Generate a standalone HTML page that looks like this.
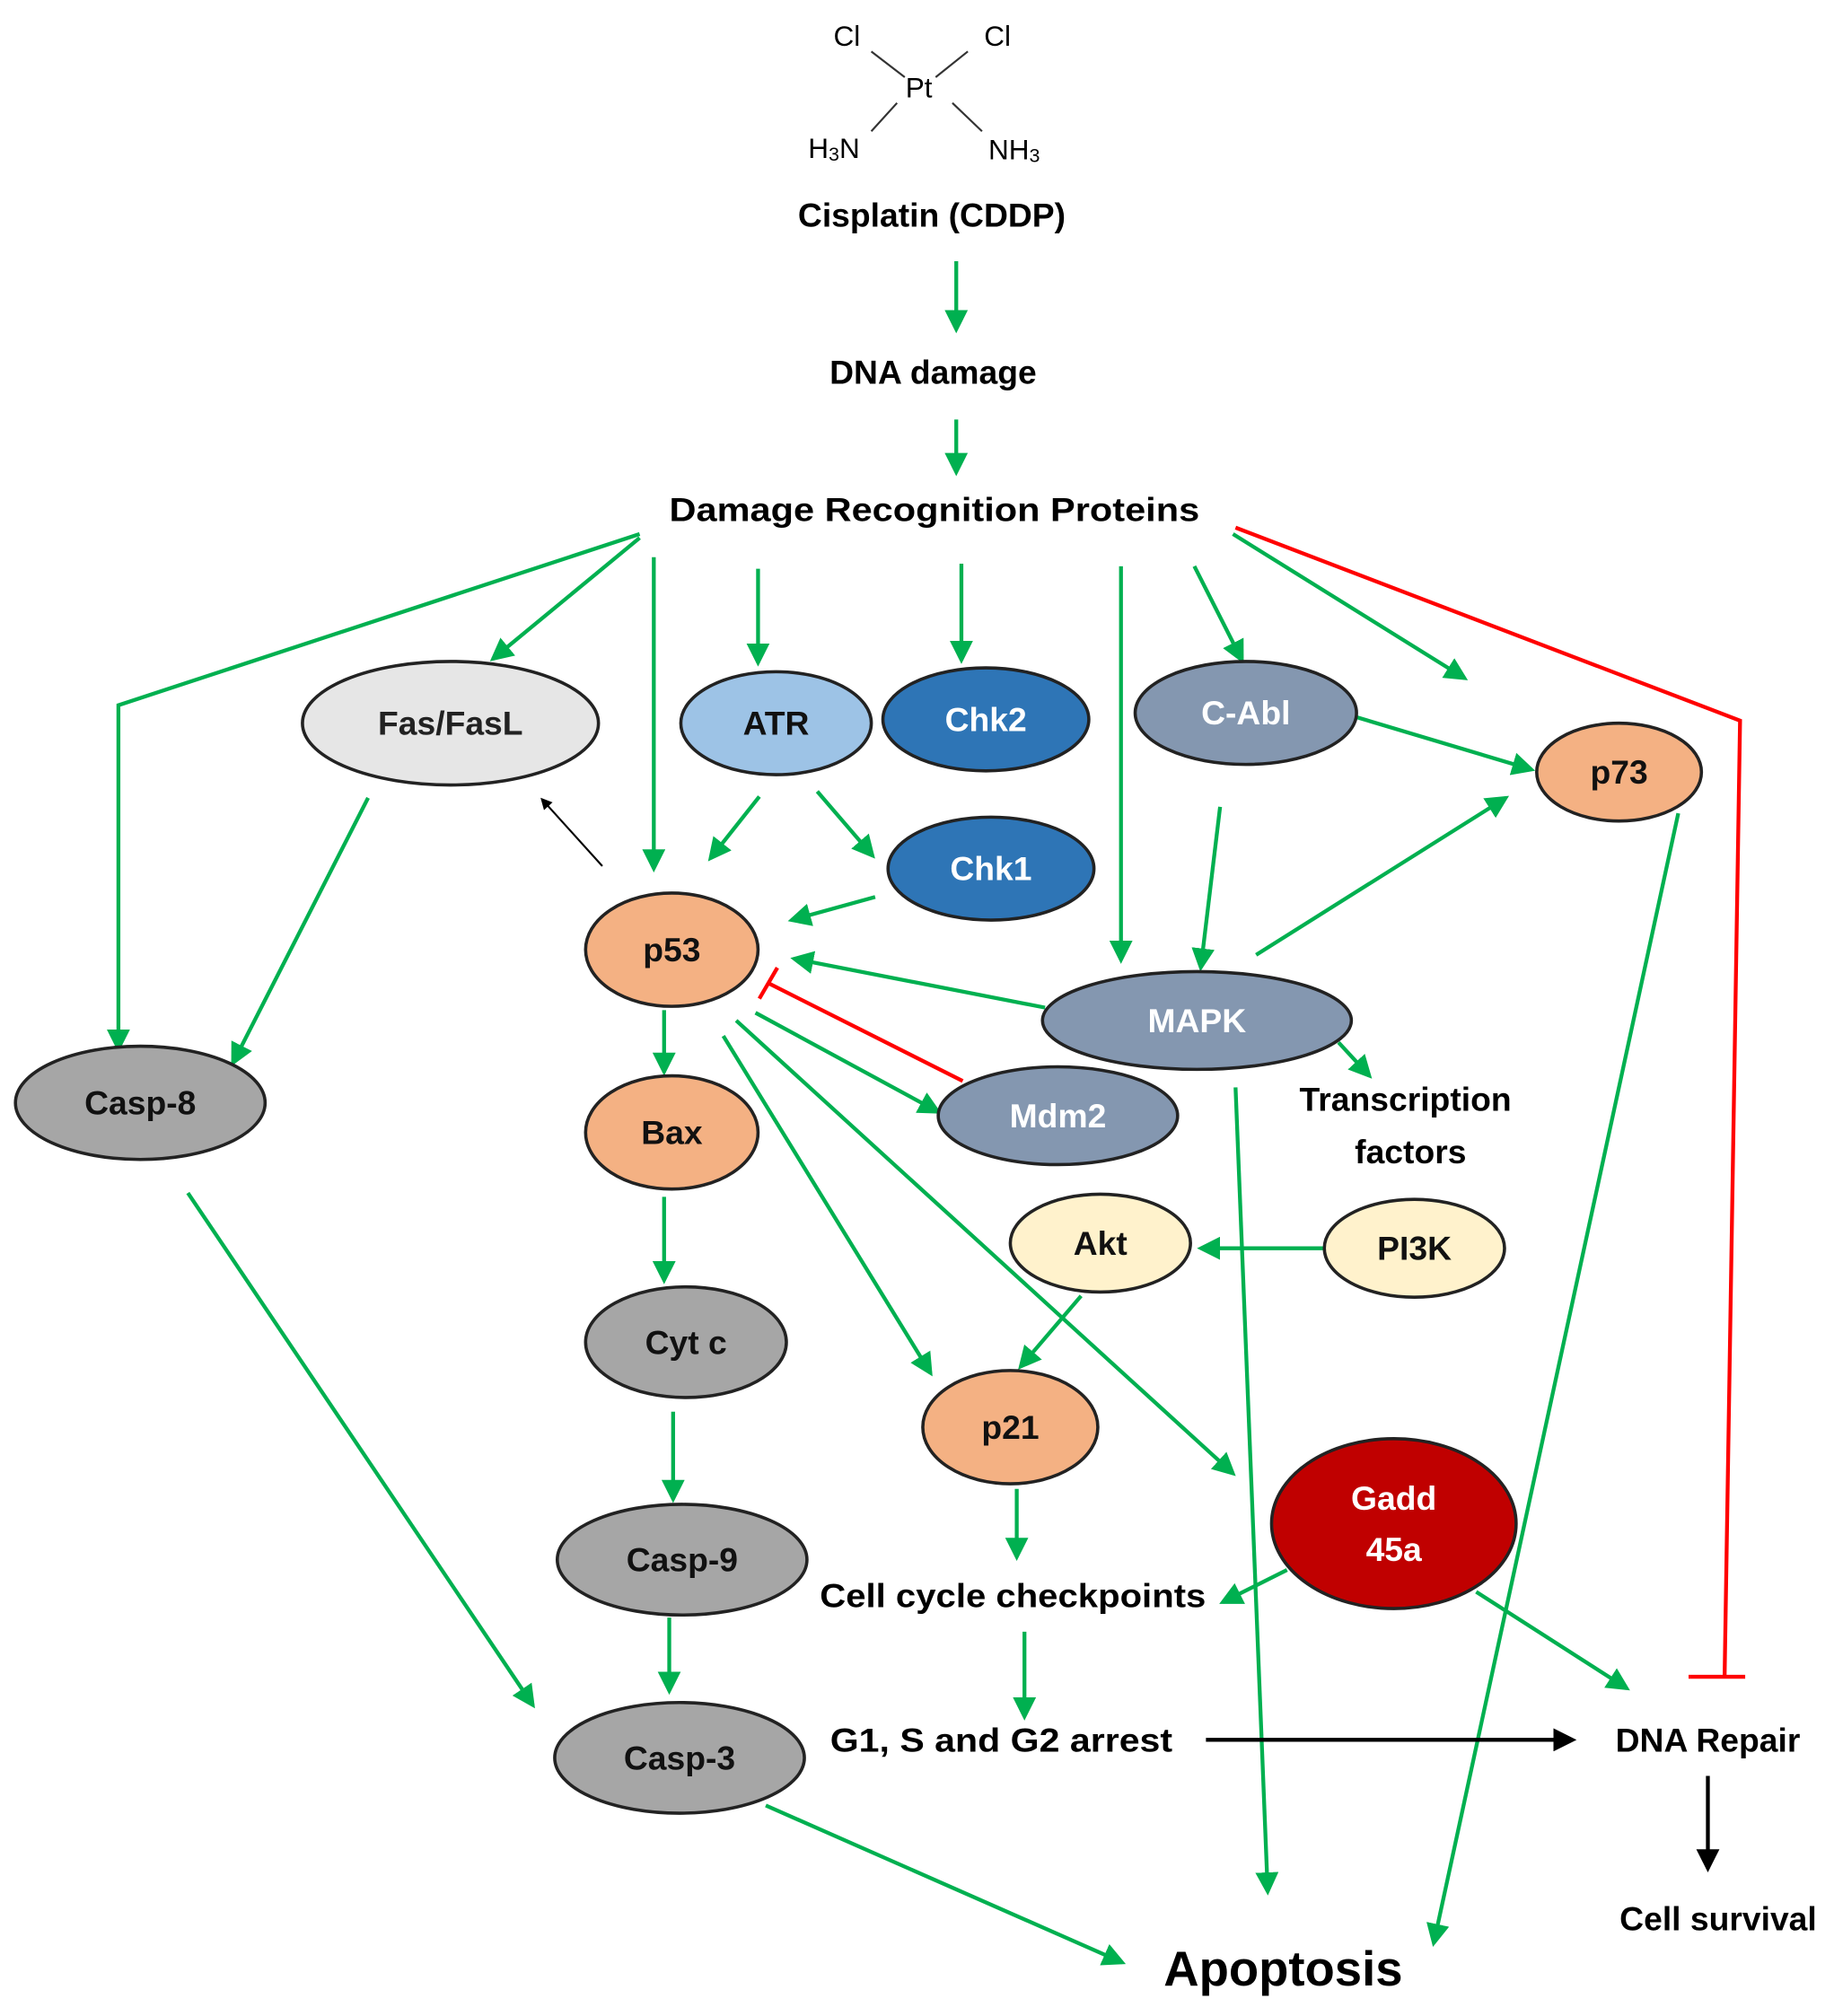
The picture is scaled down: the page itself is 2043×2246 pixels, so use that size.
<!DOCTYPE html>
<html><head><meta charset="utf-8"><style>
html,body{margin:0;padding:0;background:#fff;}
svg{display:block}
text{font-family:"Liberation Sans",sans-serif;font-weight:bold;text-anchor:middle;dominant-baseline:central}
</style></head><body>
<svg width="2043" height="2246" viewBox="0 0 1425 1566.6" preserveAspectRatio="none" xmlns="http://www.w3.org/2000/svg">
<defs>
<marker id="g" markerWidth="6" markerHeight="6" refX="5" refY="3" orient="auto" markerUnits="strokeWidth"><path d="M0,0 L6,3 L0,6 z" fill="#00b050"/></marker>
<marker id="k" markerWidth="6" markerHeight="6" refX="5" refY="3" orient="auto" markerUnits="strokeWidth"><path d="M0,0 L6,3 L0,6 z" fill="#000"/></marker>
</defs>
<!-- molecule -->
<g font-weight="normal" style="font-weight:normal">
<text x="658" y="28" font-size="22" style="font-weight:normal">Cl</text>
<text x="775" y="28" font-size="22" style="font-weight:normal">Cl</text>
<text x="714" y="68" font-size="22" style="font-weight:normal">Pt</text>
<text x="648" y="115" font-size="22" style="font-weight:normal">H<tspan font-size="15" dy="5">3</tspan><tspan dy="-5">N</tspan></text>
<text x="788" y="116" font-size="22" style="font-weight:normal">NH<tspan font-size="15" dy="5">3</tspan></text>
</g>
<g stroke="#333" stroke-width="1.5">
<line x1="677" y1="40" x2="703" y2="60"/><line x1="752" y1="40" x2="727" y2="60"/>
<line x1="697" y1="80" x2="677" y2="102"/><line x1="740" y1="80" x2="763" y2="102"/>
</g>
<g font-size="26">
<text x="724" y="167">Cisplatin (CDDP)</text>
<text x="725" y="289">DNA damage</text>
<text x="726" y="396" textLength="412" lengthAdjust="spacingAndGlyphs">Damage Recognition Proteins</text>
<text x="1092" y="854">Transcription</text>
<text x="1096" y="895">factors</text>
<text x="787" y="1240" textLength="300" lengthAdjust="spacingAndGlyphs">Cell cycle checkpoints</text>
<text x="778" y="1352" textLength="266" lengthAdjust="spacingAndGlyphs">G1, S and G2 arrest</text>
<text x="1327" y="1352">DNA Repair</text>
<text x="1335" y="1491">Cell survival</text>
<text x="997" y="1530" font-size="38">Apoptosis</text>
</g>
<!-- arrows -->
<g stroke="#00b050" stroke-width="3" fill="none" marker-end="url(#g)">
<line x1="743" y1="203" x2="743" y2="256"/>
<line x1="743" y1="326" x2="743" y2="367"/>
<polyline points="497,415 92,548 92,815"/>
<line x1="497" y1="418" x2="383" y2="512"/>
<line x1="508" y1="433" x2="508" y2="675"/>
<line x1="589" y1="442" x2="589" y2="515"/>
<line x1="747" y1="438" x2="747" y2="513"/>
<line x1="928" y1="440" x2="965" y2="513"/>
<line x1="958" y1="415" x2="1138" y2="527"/>
<line x1="871" y1="440" x2="871" y2="746"/>
<line x1="1053" y1="557" x2="1190" y2="598"/>
<line x1="590" y1="619" x2="552" y2="667"/>
<line x1="635" y1="615" x2="678" y2="665"/>
<line x1="680" y1="697" x2="615" y2="715"/>
<line x1="948" y1="627" x2="933" y2="752"/>
<line x1="976" y1="742" x2="1170" y2="620"/>
<line x1="812" y1="783" x2="617" y2="745"/>
<line x1="286" y1="620" x2="181" y2="826"/>
<line x1="587" y1="787" x2="729" y2="864"/>
<line x1="516" y1="785" x2="516" y2="833"/>
<line x1="1040" y1="810" x2="1064" y2="836"/>
<line x1="562" y1="805" x2="723" y2="1067"/>
<line x1="572" y1="793" x2="958" y2="1145"/>
<line x1="960" y1="845" x2="985" y2="1470"/>
<line x1="1304" y1="632" x2="1114" y2="1510"/>
<line x1="1030" y1="970" x2="933" y2="970"/>
<line x1="840" y1="1007" x2="793" y2="1062"/>
<line x1="516" y1="930" x2="516" y2="995"/>
<line x1="523" y1="1097" x2="523" y2="1165"/>
<line x1="790" y1="1157" x2="790" y2="1210"/>
<line x1="1000" y1="1220" x2="950" y2="1245"/>
<line x1="520" y1="1257" x2="520" y2="1314"/>
<line x1="146" y1="927" x2="414" y2="1325"/>
<line x1="796" y1="1268" x2="796" y2="1334"/>
<line x1="1147" y1="1237" x2="1264" y2="1312"/>
<line x1="595" y1="1403" x2="872" y2="1525"/>
</g>
<g stroke="#000" fill="none" marker-end="url(#k)">
<line x1="468" y1="673" x2="421" y2="621" stroke-width="1.5"/>
<line x1="937" y1="1352" x2="1222" y2="1352" stroke-width="3"/>
<line x1="1327" y1="1380" x2="1327" y2="1452" stroke-width="3"/>
</g>
<g stroke="#ff0000" stroke-width="3" fill="none">
<polyline points="960,410 1352,560 1340,1303"/>
<line x1="1312" y1="1303" x2="1356" y2="1303"/>
<line x1="748" y1="840" x2="597" y2="764"/>
<line x1="590" y1="776" x2="604" y2="752"/>
</g>
<!-- nodes -->
<g stroke="#222" stroke-width="2.5">
<ellipse cx="350" cy="562" rx="115" ry="48" fill="#e6e6e6"/>
<ellipse cx="603" cy="562" rx="74" ry="40" fill="#9dc3e6"/>
<ellipse cx="766" cy="559" rx="80" ry="40" fill="#2e75b6"/>
<ellipse cx="968" cy="554" rx="86" ry="40" fill="#8497b0"/>
<ellipse cx="1258" cy="600" rx="64" ry="38" fill="#f4b183"/>
<ellipse cx="770" cy="675" rx="80" ry="40" fill="#2e75b6"/>
<ellipse cx="522" cy="738" rx="67" ry="44" fill="#f4b183"/>
<ellipse cx="930" cy="793" rx="120" ry="38" fill="#8497b0"/>
<ellipse cx="109" cy="857" rx="97" ry="44" fill="#a6a6a6"/>
<ellipse cx="822" cy="867" rx="93" ry="38" fill="#8497b0"/>
<ellipse cx="522" cy="880" rx="67" ry="44" fill="#f4b183"/>
<ellipse cx="855" cy="966" rx="70" ry="38" fill="#fff2cc"/>
<ellipse cx="1099" cy="970" rx="70" ry="38" fill="#fff2cc"/>
<ellipse cx="533" cy="1043" rx="78" ry="43" fill="#a6a6a6"/>
<ellipse cx="785" cy="1109" rx="68" ry="44" fill="#f4b183"/>
<ellipse cx="1083" cy="1184" rx="95" ry="66" fill="#c00000"/>
<ellipse cx="530" cy="1212" rx="97" ry="43" fill="#a6a6a6"/>
<ellipse cx="528" cy="1366" rx="97" ry="43" fill="#a6a6a6"/>
</g>
<g font-size="26">
<text x="350" y="562" fill="#222">Fas/FasL</text>
<text x="603" y="562" fill="#111">ATR</text>
<text x="766" y="559" fill="#fff">Chk2</text>
<text x="968" y="554" fill="#fff">C-Abl</text>
<text x="1258" y="600" fill="#111">p73</text>
<text x="770" y="675" fill="#fff">Chk1</text>
<text x="522" y="738" fill="#111">p53</text>
<text x="930" y="793" fill="#fff">MAPK</text>
<text x="109" y="857" fill="#111">Casp-8</text>
<text x="822" y="867" fill="#fff">Mdm2</text>
<text x="522" y="880" fill="#111">Bax</text>
<text x="855" y="966" fill="#111">Akt</text>
<text x="1099" y="970" fill="#111">PI3K</text>
<text x="533" y="1043" fill="#111">Cyt c</text>
<text x="785" y="1109" fill="#111">p21</text>
<text x="1083" y="1164" fill="#fff">Gadd</text>
<text x="1083" y="1204" fill="#fff">45a</text>
<text x="530" y="1212" fill="#111">Casp-9</text>
<text x="528" y="1366" fill="#111">Casp-3</text>
</g>
</svg>
</body></html>
